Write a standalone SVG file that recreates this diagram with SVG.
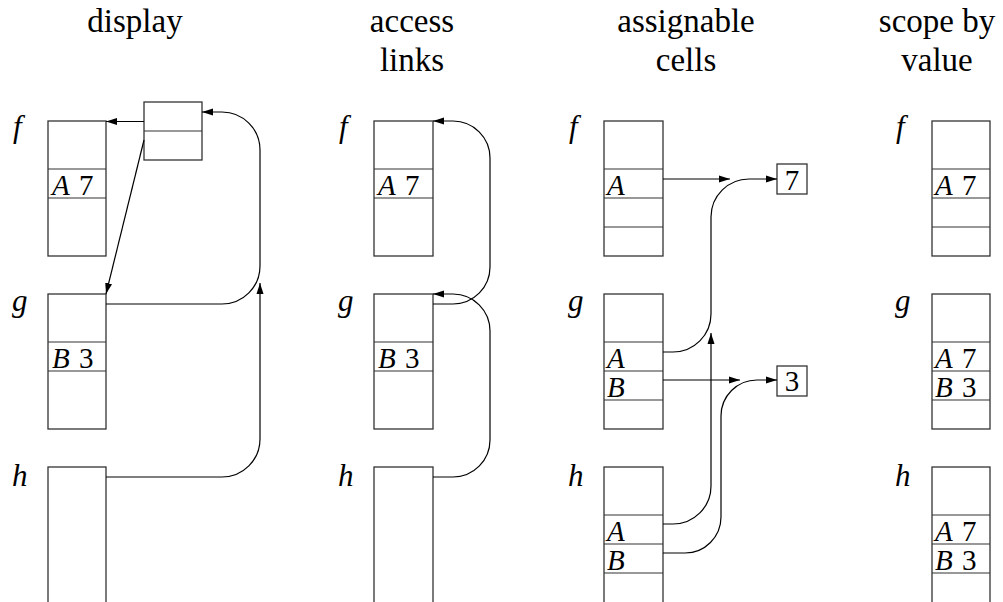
<svg xmlns="http://www.w3.org/2000/svg" width="1003" height="602" viewBox="0 0 1003 602">
  <style>
    .frame { fill: #fff; stroke: #333; stroke-width: 1.3; }
    .div { stroke: #333; stroke-width: 1.2; fill: none; }
    text { font-family: "Liberation Serif", "Times New Roman", serif; fill: #000; }
    .title { font-size: 33px; text-anchor: middle; }
    .name { font-size: 31px; font-style: italic; }
    .cell { font-size: 29px; word-spacing: 2px; }
    .cell .v { font-style: italic; }
    .link { fill: none; stroke: #000; stroke-width: 1.2; marker-end: url(#arr); }
  </style>
  <defs>
    <marker id="arr" markerWidth="12" markerHeight="8" refX="11" refY="4" orient="auto" markerUnits="userSpaceOnUse">
      <path d="M0,0.5 L11,4 L0,7.5 z" fill="#000"/>
    </marker>
  </defs>
  <rect width="1003" height="602" fill="#fff"/>

  <!-- column headings -->
  <g id="titles">
    <text class="title" x="135" y="32">display</text>
    <text class="title" x="412" y="32">access</text>
    <text class="title" x="412" y="71">links</text>
    <text class="title" x="686" y="32">assignable</text>
    <text class="title" x="686" y="71">cells</text>
    <text class="title" x="937" y="32">scope by</text>
    <text class="title" x="937" y="71">value</text>
  </g>

  <!-- display: activation frames -->
  <g id="display-f">
    <text class="name" x="13" y="137">f</text>
    <rect class="frame" x="48" y="121" width="58" height="135"/>
    <path class="div" d="M48,169H106M48,198H106"/>
    <text class="cell" x="52" y="195"><tspan class="v">A</tspan> 7</text>
  </g>
  <g id="display-g">
    <text class="name" x="12" y="311">g</text>
    <rect class="frame" x="48" y="294" width="58" height="135"/>
    <path class="div" d="M48,342H106M48,371H106"/>
    <text class="cell" x="52" y="368"><tspan class="v">B</tspan> 3</text>
  </g>
  <g id="display-h">
    <text class="name" x="12" y="486">h</text>
    <rect class="frame" x="48" y="467" width="58" height="140"/>
  </g>
  <g id="display-vector">
    <rect class="frame" x="144" y="102" width="58" height="58"/>
    <path class="div" d="M144,131H202"/>
  </g>

  <!-- access links: activation frames -->
  <g id="access-f">
    <text class="name" x="339" y="137">f</text>
    <rect class="frame" x="374" y="121" width="59" height="135"/>
    <path class="div" d="M374,169H433M374,198H433"/>
    <text class="cell" x="378" y="195"><tspan class="v">A</tspan> 7</text>
  </g>
  <g id="access-g">
    <text class="name" x="338" y="311">g</text>
    <rect class="frame" x="374" y="294" width="59" height="135"/>
    <path class="div" d="M374,342H433M374,371H433"/>
    <text class="cell" x="378" y="368"><tspan class="v">B</tspan> 3</text>
  </g>
  <g id="access-h">
    <text class="name" x="338" y="486">h</text>
    <rect class="frame" x="374" y="467" width="59" height="140"/>
  </g>

  <!-- assignable cells: activation frames and cells -->
  <g id="cells-f">
    <text class="name" x="569" y="137">f</text>
    <rect class="frame" x="604" y="121" width="59" height="135"/>
    <path class="div" d="M604,169H663M604,198H663M604,227H663"/>
    <text class="cell" x="607" y="195"><tspan class="v">A</tspan></text>
  </g>
  <g id="cells-g">
    <text class="name" x="568" y="311">g</text>
    <rect class="frame" x="604" y="294" width="59" height="135"/>
    <path class="div" d="M604,342H663M604,371H663M604,400H663"/>
    <text class="cell" x="607" y="368"><tspan class="v">A</tspan></text>
    <text class="cell" x="607" y="397"><tspan class="v">B</tspan></text>
  </g>
  <g id="cells-h">
    <text class="name" x="568" y="486">h</text>
    <rect class="frame" x="604" y="467" width="59" height="140"/>
    <path class="div" d="M604,515H663M604,544H663M604,573H663"/>
    <text class="cell" x="607" y="541"><tspan class="v">A</tspan></text>
    <text class="cell" x="607" y="570"><tspan class="v">B</tspan></text>
  </g>
  <g id="cell-7">
    <rect class="frame" x="777" y="164" width="30" height="30"/>
    <text class="cell" x="792" y="190" text-anchor="middle">7</text>
  </g>
  <g id="cell-3">
    <rect class="frame" x="777" y="366" width="30" height="30"/>
    <text class="cell" x="792" y="391" text-anchor="middle">3</text>
  </g>

  <!-- scope by value: activation frames -->
  <g id="value-f">
    <text class="name" x="896" y="137">f</text>
    <rect class="frame" x="932" y="121" width="58" height="135"/>
    <path class="div" d="M932,169H990M932,198H990M932,227H990"/>
    <text class="cell" x="935" y="195"><tspan class="v">A</tspan> 7</text>
  </g>
  <g id="value-g">
    <text class="name" x="895" y="311">g</text>
    <rect class="frame" x="932" y="294" width="58" height="135"/>
    <path class="div" d="M932,342H990M932,371H990M932,400H990"/>
    <text class="cell" x="935" y="368"><tspan class="v">A</tspan> 7</text>
    <text class="cell" x="935" y="397"><tspan class="v">B</tspan> 3</text>
  </g>
  <g id="value-h">
    <text class="name" x="895" y="486">h</text>
    <rect class="frame" x="932" y="467" width="58" height="140"/>
    <path class="div" d="M932,515H990M932,544H990M932,573H990"/>
    <text class="cell" x="935" y="541"><tspan class="v">A</tspan> 7</text>
    <text class="cell" x="935" y="570"><tspan class="v">B</tspan> 3</text>
  </g>

  <!-- pointers -->
  <g id="connectors">
    <!-- display vector entries -->
    <path class="link" d="M144,121.5H106"/>
    <path class="link" d="M144,140L106,294"/>
    <!-- g and h register into the display -->
    <path class="link" d="M106,304H222A38,38 0 0 0 260,266V150A38,38 0 0 0 222,112H202"/>
    <path class="link" d="M106,477H222A38,38 0 0 0 260,439V283"/>
    <!-- access links -->
    <path class="link" d="M433,304H453A37,37 0 0 0 490,267V158A37,37 0 0 0 453,121H433"/>
    <path class="link" d="M433,477H453A37,37 0 0 0 490,440V331A37,37 0 0 0 453,294H433"/>
    <!-- assignable cells -->
    <path class="link" d="M663,179H730"/>
    <path class="link" d="M663,352H673A38,38 0 0 0 711,314V217A38,38 0 0 1 749,179H777"/>
    <path class="link" d="M663,380H740"/>
    <path class="link" d="M663,524H673A38,38 0 0 0 711,486V333"/>
    <path class="link" d="M663,553H685A36,36 0 0 0 721,517V416A36,36 0 0 1 757,380H777"/>
  </g>
</svg>
